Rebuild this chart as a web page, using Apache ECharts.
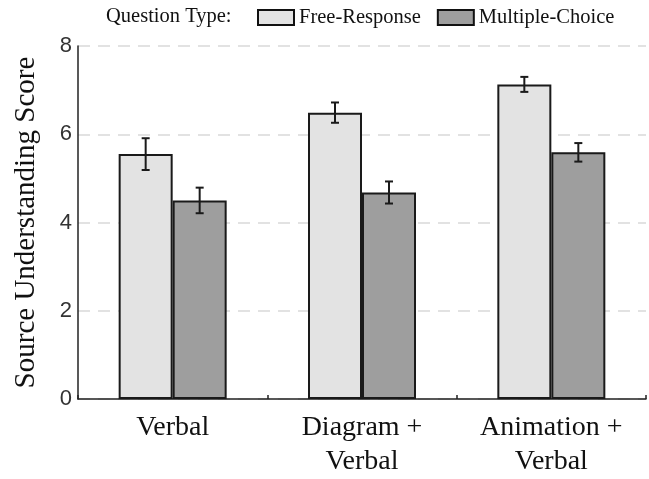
<!DOCTYPE html>
<html><head><meta charset="utf-8">
<script src="https://cdn.jsdelivr.net/npm/echarts@6/dist/echarts.min.js"></script>
<style>html,body{margin:0;padding:0;background:#fff;overflow:hidden}#c{width:649px;height:479px}</style>
</head><body><div id="c"></div>
<script>
const categories = ['Verbal', 'Diagram +\nVerbal', 'Animation +\nVerbal'];
const freeResponse = [5.55, 6.49, 7.13];
const freeResponseErr = [0.36, 0.23, 0.17];
const multipleChoice = [4.50, 4.68, 5.59];
const multipleChoiceErr = [0.29, 0.25, 0.21];
const yTicks = [0, 2, 4, 6, 8];

const BAR_W = 54;
const chart = echarts.init(document.getElementById('c'));

function errSeries(name, vals, errs, dir) {
  return {
    type: 'custom',
    name: name + ' err',
    z: 10,
    silent: true,
    data: vals.map((v, i) => [i, v - errs[i], v + errs[i]]),
    renderItem: function (params, api) {
      const i = api.value(0);
      const lo = api.coord([i, api.value(1)]);
      const hi = api.coord([i, api.value(2)]);
      const x = lo[0] + dir * BAR_W / 2;
      const cap = 4;
      const st = { stroke: '#1a1a1a', lineWidth: 2 };
      return {
        type: 'group',
        children: [
          { type: 'line', shape: { x1: x, y1: lo[1], x2: x, y2: hi[1] }, style: st },
          { type: 'line', shape: { x1: x - cap, y1: lo[1], x2: x + cap, y2: lo[1] }, style: st },
          { type: 'line', shape: { x1: x - cap, y1: hi[1], x2: x + cap, y2: hi[1] }, style: st }
        ]
      };
    }
  };
}

chart.setOption({
  animation: false,
  textStyle: { fontFamily: 'Liberation Serif' },
  graphic: [{
    type: 'text', left: 106, top: 6,
    style: { text: 'Question Type:', font: '20.5px "Liberation Serif"', fill: '#111' }
  }],
  legend: {
    left: 252, top: 2,
    icon: 'rect',
    itemWidth: 36, itemHeight: 15, itemGap: 16,
    itemStyle: { borderColor: '#111', borderWidth: 2 },
    textStyle: { fontFamily: 'Liberation Serif', fontSize: 20.5, color: '#111' },
    data: ['Free-Response', 'Multiple-Choice']
  },
  grid: { left: 78, right: 3, top: 46, height: 357 },
  xAxis: {
    type: 'category',
    data: categories,
    axisLine: { lineStyle: { color: '#222', width: 1.5 } },
    axisTick: { show: true, inside: true, length: 4, lineStyle: { color: '#222', width: 1.5 } },
    axisLabel: { fontFamily: 'Liberation Serif', fontSize: 28, color: '#111', margin: 12, lineHeight: 34 }
  },
  yAxis: {
    type: 'value', min: 0, max: 8, interval: 2,
    name: 'Source Understanding Score',
    nameLocation: 'middle', nameGap: 37,
    nameTextStyle: { fontFamily: 'Liberation Serif', fontSize: 29, color: '#111' },
    axisLine: { show: true, lineStyle: { color: '#222', width: 1.5 } },
    axisTick: { show: false },
    axisLabel: { fontFamily: 'Liberation Sans', fontSize: 22, color: '#333', margin: 6,
      formatter: v => yTicks.includes(v) ? String(v) : '' },
    splitLine: { show: true, lineStyle: { color: '#d9d9d9', type: [12, 8], width: 1.5 } }
  },
  series: [
    { name: 'Free-Response', type: 'bar', barWidth: BAR_W, barGap: '0%', data: freeResponse,
      itemStyle: { color: '#e3e3e3', borderColor: '#1a1a1a', borderWidth: 2 } },
    { name: 'Multiple-Choice', type: 'bar', barWidth: BAR_W, barGap: '0%', data: multipleChoice,
      itemStyle: { color: '#9e9e9e', borderColor: '#1a1a1a', borderWidth: 2 } },
    errSeries('Free-Response', freeResponse, freeResponseErr, -1),
    errSeries('Multiple-Choice', multipleChoice, multipleChoiceErr, 1)
  ]
});
</script></body></html>
